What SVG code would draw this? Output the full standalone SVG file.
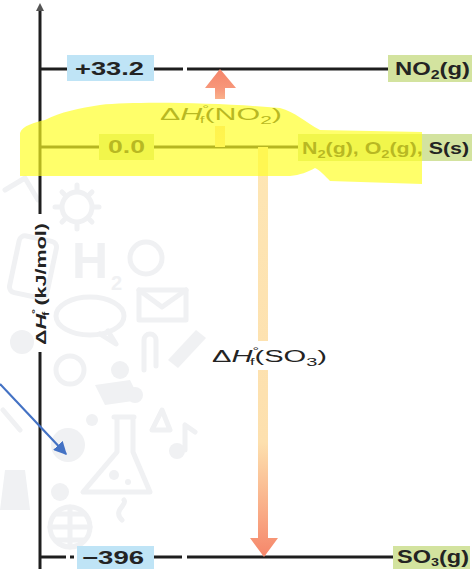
<svg xmlns="http://www.w3.org/2000/svg" width="472" height="569" viewBox="0 0 472 569">
  <defs>
    <style>
      .lbl { font-family: "Liberation Sans", Arial, sans-serif; fill: #232323; }
      .val { font-size: 18px; font-weight: bold; }
      .sp { font-size: 16px; font-weight: bold; }
      .dh { font-size: 16px; }
      .it { font-style: italic; }
      .blue { fill: #bfe4f6; }
      .green { fill: #d3e39f; }
      .level { stroke: #1e1e1e; stroke-width: 3; fill: none; }
      .wm { fill: none; stroke: #f0f1f3; stroke-width: 5; stroke-linecap: round; stroke-linejoin: round; }
      .wmf { fill: #f0f1f3; }
    </style>
    <linearGradient id="gNO2" x1="0" y1="147" x2="0" y2="69" gradientUnits="userSpaceOnUse">
      <stop offset="0" stop-color="#fde3ae"/>
      <stop offset="0.45" stop-color="#fcd0a0"/>
      <stop offset="0.75" stop-color="#f7977a"/>
      <stop offset="1" stop-color="#f5856a"/>
    </linearGradient>
    <linearGradient id="gSO3" x1="0" y1="147" x2="0" y2="557" gradientUnits="userSpaceOnUse">
      <stop offset="0" stop-color="#fee6b4"/>
      <stop offset="0.72" stop-color="#fde0ae"/>
      <stop offset="0.9" stop-color="#f9a884"/>
      <stop offset="1" stop-color="#f5866a"/>
    </linearGradient>
    <marker id="blueHead" viewBox="0 0 10 10" refX="9" refY="5" markerWidth="6" markerHeight="6" orient="auto" markerUnits="strokeWidth">
      <path d="M0,0 L10,5 L0,10 Z" fill="#4472c4"/>
    </marker>
  </defs>

  <rect width="472" height="569" fill="#ffffff"/>

  <!-- faint background icons -->
  <g id="watermark">
    <circle class="wm" cx="77" cy="207" r="15"/>
    <path class="wm" d="M77,185 L77,190 M77,224 L77,229 M55,207 L60,207 M94,207 L99,207 M62,192 L65,195 M89,219 L92,222 M62,222 L65,219 M89,195 L92,192"/>
    <path class="wm" d="M5,190 L25,178 L38,200"/>
    <rect class="wm" x="14" y="238" width="38" height="58" rx="6" transform="rotate(12 33 267)"/>
    <text x="72" y="278" font-family="Liberation Sans, Arial, sans-serif" font-weight="bold" font-size="50" fill="#f0f1f3">H</text>
    <text x="111" y="290" font-family="Liberation Sans, Arial, sans-serif" font-weight="bold" font-size="20" fill="#f0f1f3">2</text>
    <circle class="wm" cx="146" cy="258" r="16"/>
    <ellipse class="wm" cx="90" cy="316" rx="34" ry="19"/>
    <path class="wm" d="M108,331 L116,344 L100,334"/>
    <rect class="wm" x="139" y="290" width="47" height="30"/>
    <path class="wm" d="M139,290 L162,307 L186,290"/>
    <path class="wm" d="M144,370 L144,340 A6,6 0 0 1 156,340 L156,366"/>
    <path class="wmf" d="M168,360 L196,330 L206,338 L178,368 Z"/>
    <circle class="wmf" cx="22" cy="342" r="12"/>
    <circle class="wm" cx="70" cy="370" r="14"/>
    <circle class="wmf" cx="120" cy="370" r="9"/>
    <path class="wmf" d="M95,385 L130,380 L140,400 L105,405 Z"/>
    <circle class="wmf" cx="135" cy="395" r="8"/>
    <circle class="wmf" cx="68" cy="445" r="17"/>
    <circle class="wmf" cx="92" cy="420" r="6"/>
    <path class="wm" d="M114,417 L134,417 M117,417 L117,452 L83,492 L150,492 L133,452 L133,417"/>
    <circle class="wmf" cx="114" cy="475" r="5"/>
    <circle class="wmf" cx="128" cy="482" r="3"/>
    <path class="wm" d="M152,430 L162,410 L170,430 Z"/>
    <path class="wm" d="M185,425 L185,450 M185,425 L195,432"/>
    <circle class="wmf" cx="177" cy="451" r="8"/>
    <circle class="wm" cx="70" cy="527" r="20"/>
    <path class="wm" d="M50,527 L90,527 M70,507 L70,547 M56,514 L84,514 M56,540 L84,540"/>
    <path class="wm" d="M122,520 C112,510 128,505 124,500"/>
    <path class="wmf" d="M5,470 L25,470 L30,510 L0,510 Z"/>
    <path class="wm" d="M3,410 L20,430"/>
    <circle class="wmf" cx="60" cy="492" r="9"/>
  </g>

  <!-- vertical axis -->
  <g id="axis">
    <line class="level" x1="40" y1="9" x2="40" y2="214"/>
    <line class="level" x1="40" y1="352" x2="40" y2="569"/>
    <path d="M40,3 L36,11 L44,11 Z" fill="#555555"/>
    <text class="lbl" font-size="15" font-weight="bold" transform="translate(46,284) rotate(-90)" text-anchor="middle" textLength="122" lengthAdjust="spacingAndGlyphs">Δ<tspan class="it">H</tspan><tspan font-size="9" dy="-8">°</tspan><tspan font-size="9" dx="-5" dy="11">f</tspan><tspan dy="-3"> (kJ/mol)</tspan></text>
  </g>

  <!-- enthalpy levels -->
  <g id="level-no2">
    <line class="level" x1="40" y1="69" x2="183" y2="69"/>
    <line class="level" x1="187" y1="69" x2="390" y2="69"/>
    <rect class="blue" x="67" y="55" width="87" height="26"/>
    <text class="lbl val" x="75" y="75" textLength="69" lengthAdjust="spacingAndGlyphs">+33.2</text>
    <rect class="green" x="388" y="55" width="84" height="27"/>
    <text class="lbl val" x="395" y="75" textLength="75" lengthAdjust="spacingAndGlyphs">NO<tspan font-size="12" dy="4">2</tspan><tspan dy="-4">(g)</tspan></text>
  </g>

  <g id="level-elements">
    <line class="level" x1="40" y1="147" x2="300" y2="147"/>
    <rect class="green" x="99" y="134" width="55" height="26"/>
    <text class="lbl val" x="108" y="153" textLength="37" lengthAdjust="spacingAndGlyphs">0.0</text>
    <rect class="green" x="298" y="134" width="174" height="27"/>
    <text class="lbl sp" x="302" y="154" textLength="167" lengthAdjust="spacingAndGlyphs">N<tspan font-size="11" dy="4">2</tspan><tspan dy="-4">(g), O</tspan><tspan font-size="11" dy="4">2</tspan><tspan dy="-4">(g), S(s)</tspan></text>
  </g>

  <g id="level-so3">
    <line class="level" x1="40" y1="557" x2="66" y2="557"/>
    <line class="level" x1="70" y1="557" x2="74" y2="557"/>
    <line class="level" x1="154" y1="557" x2="182" y2="557"/>
    <line class="level" x1="187" y1="557" x2="395" y2="557"/>
    <rect class="blue" x="77" y="546" width="77" height="23"/>
    <text class="lbl val" x="82" y="564" textLength="62" lengthAdjust="spacingAndGlyphs">−396</text>
    <rect class="green" x="393" y="546" width="77" height="23"/>
    <text class="lbl val" x="397" y="563" textLength="72" lengthAdjust="spacingAndGlyphs">SO<tspan font-size="11" dy="3">3</tspan><tspan dy="-3">(g)</tspan></text>
  </g>

  <!-- enthalpy change arrows -->
  <g id="connectors">
    <path id="arrow-no2" d="M215,147 L215,88 L205,88 L220,69 L236,88 L225,88 L225,147 Z" fill="url(#gNO2)"/>
    <path id="arrow-so3" d="M258,147 L258,538 L250,538 L264,557 L278,538 L268,538 L268,147 Z" fill="url(#gSO3)"/>
    <line x1="0" y1="384" x2="66" y2="454" stroke="#4472c4" stroke-width="2.2" marker-end="url(#blueHead)"/>
  </g>

  <g id="label-no2">
    <rect x="158" y="99" width="126" height="27" fill="#ffffff"/>
    <text class="lbl dh" x="160" y="120" textLength="122" lengthAdjust="spacingAndGlyphs">Δ<tspan class="it">H</tspan><tspan font-size="9" dy="-8">°</tspan><tspan font-size="9" dx="-5" dy="11">f</tspan><tspan dy="-3">(NO</tspan><tspan font-size="11" dy="4">2</tspan><tspan dy="-4">)</tspan></text>
  </g>

  <g id="label-so3">
    <rect x="210" y="341" width="118" height="29" fill="#ffffff"/>
    <text class="lbl dh" x="212" y="362" textLength="115" lengthAdjust="spacingAndGlyphs">Δ<tspan class="it">H</tspan><tspan font-size="9" dy="-8">°</tspan><tspan font-size="9" dx="-5" dy="11">f</tspan><tspan dy="-3">(SO</tspan><tspan font-size="11" dy="4">3</tspan><tspan dy="-4">)</tspan></text>
  </g>

  <!-- highlighter stroke over the zero level -->
  <path id="highlight" d="M20,133 C22,126 35,122 45,120 C60,112 80,108 100,105 C140,101 220,103 280,108 C295,112 305,122 320,130 L422,132 L422,184 L330,181 C325,176 320,170 315,168 C308,172 300,175 290,176 L20,176 Z" fill="#ffff24" opacity="0.68"/>
</svg>
